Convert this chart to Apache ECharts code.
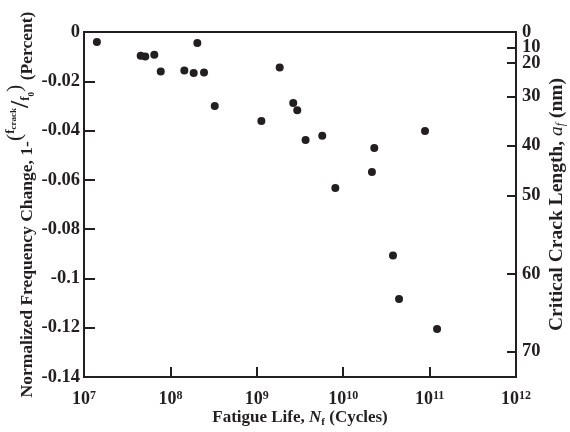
<!DOCTYPE html>
<html><head><meta charset="utf-8">
<script src="https://cdn.jsdelivr.net/npm/echarts@6/dist/echarts.min.js"></script>
<style>html,body{margin:0;padding:0;background:#fff}#c{width:570px;height:432px}</style>
</head><body><div id="c"></div>
<script>
// Data
const fatigueLife = [1.41e7, 4.53e7, 5.12e7, 6.51e7, 7.73e7, 1.45e8, 1.86e8, 2.05e8, 2.45e8, 3.26e8,
  1.13e9, 1.84e9, 2.64e9, 2.94e9, 3.67e9, 5.72e9, 8.11e9, 2.15e10, 2.29e10, 3.77e10, 4.43e10, 8.85e10, 1.22e11];
const freqChange = [-0.0041, -0.0096, -0.0099, -0.0092, -0.0160, -0.0156, -0.0166, -0.0045, -0.0164, -0.0300,
  -0.0361, -0.0144, -0.0288, -0.0318, -0.0438, -0.0421, -0.0633, -0.0568, -0.0471, -0.0907, -0.1083, -0.0402, -0.1205];
// Right axis: critical crack length labels and the frequency-change value they sit at
const crackLabels = [0, 10, 20, 30, 40, 50, 60, 70];
const crackAtFreq = [0, -0.00625, -0.01258, -0.02613, -0.0460, -0.0664, -0.0981, -0.1296];

const INK = '#231f20';
const FONT = 'Liberation Serif';
const chart = echarts.init(document.getElementById('c'), null, {renderer: 'canvas'});
const points = fatigueLife.map((x, i) => [x, freqChange[i]]);
const B = (o) => Object.assign({fontFamily: FONT, fontWeight: 'bold', color: INK}, o);
const crackName = v => {
  let best = 0;
  crackAtFreq.forEach((f, i) => { if (Math.abs(f - v) < Math.abs(crackAtFreq[best] - v)) best = i; });
  return String(crackLabels[best]);
};
// labels split over two overlaid right axes so that close neighbours are never auto-hidden
const crackEven = crackAtFreq.filter((_, i) => i % 2 === 0);
const crackOdd = crackAtFreq.filter((_, i) => i % 2 === 1);
const rightLabel = (vals) => ({fontSize: 18.5, fontFamily: FONT, fontWeight: 'bold', color: INK, margin: 6,
  showMinLabel: true, showMaxLabel: true, hideOverlap: false, customValues: vals, formatter: crackName});

chart.setOption({
  backgroundColor: '#fff',
  animation: false,
  textStyle: {fontFamily: FONT, color: INK, fontWeight: 'bold'},
  grid: {left: 84, right: 54, top: 32, bottom: 55, outerBoundsMode: 'none', containLabel: false,
    show: true, borderColor: INK, borderWidth: 2, backgroundColor: 'transparent'},
  xAxis: {
    type: 'log', logBase: 10, min: 1e7, max: 1e12,
    axisLine: {onZero: false, lineStyle: {color: INK, width: 2}},
    axisTick: {inside: true, length: 10, lineStyle: {color: INK, width: 2}},
    minorTick: {show: false},
    splitLine: {show: false},
    axisLabel: {
      margin: 13,
      formatter: v => '{b|10}{s|' + Math.round(Math.log10(v)) + '}',
      rich: {
        b: B({fontSize: 18, verticalAlign: 'bottom', lineHeight: 18}),
        s: B({fontSize: 12, verticalAlign: 'top', lineHeight: 12, padding: [0, 0, 10, 0]})
      }
    },
    name: '{t|Fatigue Life, }{i|N}{sb|f}{t| (Cycles)}',
    nameLocation: 'middle', nameGap: 31, nameMoveOverlap: false,
    nameTextStyle: {
      rich: {
        t: B({fontSize: 17, lineHeight: 20, verticalAlign: 'middle'}),
        i: B({fontSize: 17, fontStyle: 'italic', lineHeight: 20, verticalAlign: 'middle'}),
        sb: B({fontSize: 11, lineHeight: 11, verticalAlign: 'bottom'})
      }
    }
  },
  yAxis: [{
    type: 'value', min: -0.14, max: 0, interval: 0.02, position: 'left',
    axisLine: {onZero: false, lineStyle: {color: INK, width: 2}},
    axisTick: {inside: true, length: 11, lineStyle: {color: INK, width: 2}},
    splitLine: {show: false},
    axisLabel: {fontSize: 18.5, fontFamily: FONT, fontWeight: 'bold', color: INK, margin: 4,
      showMinLabel: true, showMaxLabel: true,
      formatter: v => (Math.abs(v) < 1e-9 ? '0' : String(+v.toFixed(2)))},
    name: '{t|Normalized Frequency Change, 1-}{p|(}{n|f}{sn|crack}{sl|/}{d|f}{sd|0}{p|)}{t| (Percent)}',
    nameLocation: 'middle', nameRotate: 90, nameGap: 46, nameMoveOverlap: false,
    nameTextStyle: {
      rich: {
        t: B({fontSize: 17.5, lineHeight: 17, verticalAlign: 'bottom', padding: [0, 0, 2, 0]}),
        p: B({fontSize: 22, fontWeight: 'normal', lineHeight: 22, verticalAlign: 'top'}),
        n: B({fontSize: 13, lineHeight: 13, verticalAlign: 'top'}),
        sn: B({fontSize: 9, lineHeight: 9, verticalAlign: 'top', padding: [5, 0, 0, 0]}),
        sl: B({fontSize: 26, lineHeight: 34, verticalAlign: 'middle'}),
        d: B({fontSize: 13, lineHeight: 13, verticalAlign: 'bottom', padding: [0, 0, 6, 0]}),
        sd: B({fontSize: 9, lineHeight: 9, verticalAlign: 'bottom', padding: [0, 0, 2, 0]})
      }
    }
  }, {
    type: 'value', min: -0.14, max: 0, position: 'right',
    axisLine: {onZero: false, lineStyle: {color: INK, width: 2}},
    axisTick: {inside: true, length: 9, lineStyle: {color: INK, width: 2}, customValues: crackAtFreq},
    splitLine: {show: false},
    axisLabel: rightLabel(crackEven),
    name: '{t|Critical Crack Length, }{i|a}{si|f}{t| (nm)}',
    nameLocation: 'middle', nameRotate: 90, nameGap: 31, nameMoveOverlap: false,
    nameTextStyle: {
      rich: {
        t: B({fontSize: 19.5, lineHeight: 20, verticalAlign: 'middle'}),
        i: B({fontSize: 19.5, fontStyle: 'italic', fontWeight: 'normal', lineHeight: 20, verticalAlign: 'middle'}),
        si: B({fontSize: 12, fontStyle: 'italic', fontWeight: 'normal', lineHeight: 12, verticalAlign: 'bottom'})
      }
    }
  }, {
    type: 'value', min: -0.14, max: 0, position: 'right',
    axisLine: {show: false}, axisTick: {show: false}, splitLine: {show: false},
    axisLabel: rightLabel(crackOdd)
  }],
  series: [{
    type: 'scatter', yAxisIndex: 0, data: points,
    symbol: 'circle', symbolSize: 8,
    itemStyle: {color: INK, opacity: 1}
  }]
});
</script></body></html>
